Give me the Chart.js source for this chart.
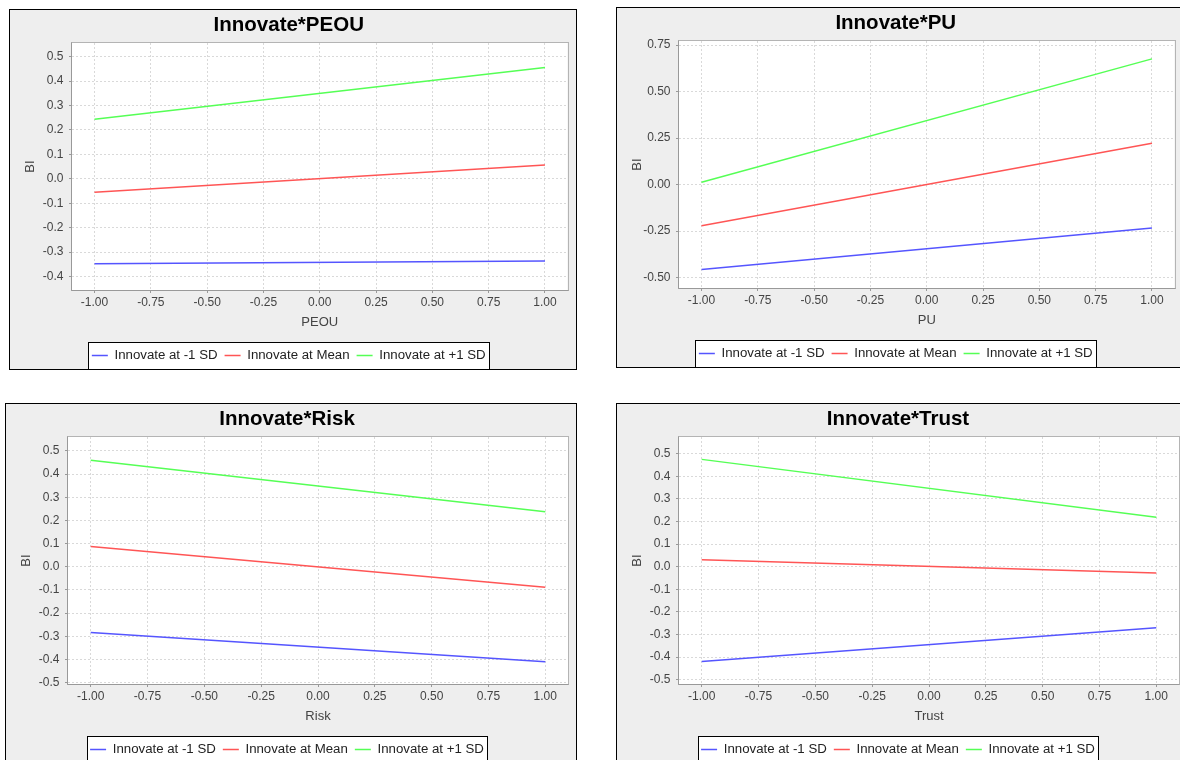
<!DOCTYPE html>
<html lang="en">
<head>
  <meta charset="UTF-8">
  <title>Innovate interaction plots</title>
  <script src="https://cdn.jsdelivr.net/npm/chart.js"></script>
  <style>
    html, body { margin: 0; padding: 0; background: #fff; }
    body { width: 1180px; height: 760px; overflow: hidden; position: relative; }
    .panel {
      position: absolute; box-sizing: border-box; height: 361px;
      border: 1px solid #000; background: #eeeeee; overflow: hidden;
    }
    .panel canvas { display: block; }
  </style>
</head>
<body>
  <div class="panel" style="left:9px; top:9px; width:568px;"><canvas id="chartPEOU" width="566" height="362"></canvas></div>
  <div class="panel" style="left:616px; top:7px; width:568px;"><canvas id="chartPU" width="566" height="362"></canvas></div>
  <div class="panel" style="left:5px; top:403px; width:572px;"><canvas id="chartRisk" width="570" height="362"></canvas></div>
  <div class="panel" style="left:616px; top:403px; width:572px;"><canvas id="chartTrust" width="570" height="362"></canvas></div>

  <script>
    // simple slopes, at x = -1 and x = +1
    const xPoints = [-1, 1];
    const xTicks = [-1, -0.75, -0.5, -0.25, 0, 0.25, 0.5, 0.75, 1];
    const seriesLabels = ['Innovate at -1 SD', 'Innovate at Mean', 'Innovate at +1 SD'];
    const seriesColors = ['#5555ff', '#ff5555', '#55ff55'];

    const peouLow = [-0.348, -0.336];
    const peouMean = [-0.055, 0.057];
    const peouHigh = [0.244, 0.456];
    const peouYTicks = [-0.4, -0.3, -0.2, -0.1, 0, 0.1, 0.2, 0.3, 0.4, 0.5];

    const puLow = [-0.456, -0.234];
    const puMean = [-0.221, 0.222];
    const puHigh = [0.013, 0.676];
    const puYTicks = [-0.5, -0.25, 0, 0.25, 0.5, 0.75];

    const riskLow = [-0.284, -0.41];
    const riskMean = [0.087, -0.088];
    const riskHigh = [0.46, 0.237];
    const riskYTicks = [-0.5, -0.4, -0.3, -0.2, -0.1, 0, 0.1, 0.2, 0.3, 0.4, 0.5];

    const trustLow = [-0.419, -0.27];
    const trustMean = [0.031, -0.028];
    const trustHigh = [0.475, 0.219];
    const trustYTicks = [-0.5, -0.4, -0.3, -0.2, -0.1, 0, 0.1, 0.2, 0.3, 0.4, 0.5];

    Chart.defaults.font.family = '"Liberation Sans", Arial, sans-serif';

    // white plot area, plot outline and the boxed legend
    const framePlugin = {
      id: 'frame',
      beforeDraw(chart) {
        const { ctx, chartArea: a, legend } = chart;
        ctx.save();
        ctx.fillStyle = '#fff';
        ctx.fillRect(a.left, a.top, a.width, a.height);
        const hb = legend && legend.legendHitBoxes;
        if (hb && hb.length) {
          const first = hb[0], last = hb[hb.length - 1];
          const x0 = Math.round(first.left - 3.5) + 0.5;
          const x1 = Math.round(last.left + last.width + 3.5) + 0.5;
          const cy = first.top + first.height / 2;
          const y0 = Math.round(cy - 13.5) + 0.5;
          const y1 = Math.round(cy + 13.5) + 0.5;
          ctx.fillRect(x0, y0, x1 - x0, y1 - y0);
          ctx.strokeStyle = '#000';
          ctx.lineWidth = 1;
          ctx.strokeRect(x0, y0, x1 - x0, y1 - y0);
        }
        ctx.restore();
      },
      beforeDatasetsDraw(chart) {
        const { ctx, chartArea: a } = chart;
        const l = Math.round(a.left) - 0.5, t = Math.round(a.top) - 0.5;
        const r = Math.round(a.right) + 0.5, b = Math.round(a.bottom) + 0.5;
        ctx.save();
        ctx.lineWidth = 1;
        ctx.strokeStyle = '#b4b4b4';
        ctx.strokeRect(l, t, r - l, b - t);
        ctx.strokeStyle = '#999';
        ctx.beginPath();
        ctx.moveTo(l, t); ctx.lineTo(l, b); ctx.lineTo(r, b);
        ctx.stroke();
        ctx.restore();
      }
    };

    function makeChart(id, title, xTitle, yMin, yMax, yTicks, yDecimals, series, rightPad) {
      const datasets = series.map((values, i) => ({
        label: seriesLabels[i],
        data: xPoints.map((x, k) => ({ x, y: values[k] })),
        borderColor: seriesColors[i],
        backgroundColor: seriesColors[i],
        borderWidth: 1.5,
        pointRadius: 0,
        pointStyle: 'line',
        fill: false,
        tension: 0
      }));

      return new Chart(document.getElementById(id), {
        type: 'line',
        data: { datasets },
        plugins: [framePlugin],
        options: {
          responsive: false,
          animation: false,
          events: [],
          layout: { padding: { left: 0, right: rightPad, top: 0, bottom: 0 } },
          plugins: {
            tooltip: { enabled: false },
            title: {
              display: true, text: title, color: '#000',
              font: { size: 20.5, weight: 'bold' },
              padding: { top: 3.5, bottom: 4.9 }
            },
            legend: {
              position: 'bottom',
              labels: {
                usePointStyle: true, pointStyle: 'line', pointStyleWidth: 16,
                padding: 7, color: '#222', font: { size: 13.25 }
              }
            }
          },
          scales: {
            x: {
              type: 'linear', min: -1.1, max: 1.1,
              afterBuildTicks: s => { s.ticks = xTicks.map(v => ({ value: v })); },
              afterFit: s => { s.height = 51.75; },
              ticks: {
                callback: v => Number(v).toFixed(2), autoSkip: false, maxRotation: 0,
                padding: 2, color: '#444', font: { size: 12 }
              },
              grid: { color: '#d9d9d9', tickColor: '#999', tickLength: 3 },
              border: { display: false, dash: [2, 2] },
              title: {
                display: true, text: xTitle, color: '#444',
                font: { size: 13 }, padding: { top: 0, bottom: 11.9 }
              }
            },
            y: {
              type: 'linear', min: yMin, max: yMax,
              afterBuildTicks: s => { s.ticks = yTicks.map(v => ({ value: v })); },
              afterFit: s => { s.width = 62; },
              ticks: {
                callback: v => Number(v).toFixed(yDecimals), autoSkip: false,
                padding: 5.5, color: '#444', font: { size: 12 }
              },
              grid: { color: '#d9d9d9', tickColor: '#999', tickLength: 3 },
              border: { display: false, dash: [2, 2] },
              title: {
                display: true, text: 'BI', color: '#444',
                font: { size: 13 }, padding: { top: 12.2, bottom: 0 }
              }
            }
          }
        }
      });
    }

    makeChart('chartPEOU', 'Innovate*PEOU', 'PEOU', -0.455, 0.556, peouYTicks, 1, [peouLow, peouMean, peouHigh], 8.5);
    makeChart('chartPU', 'Innovate*PU', 'PU', -0.556, 0.772, puYTicks, 2, [puLow, puMean, puHigh], 8.5);
    makeChart('chartRisk', 'Innovate*Risk', 'Risk', -0.506, 0.56, riskYTicks, 1, [riskLow, riskMean, riskHigh], 8);
    makeChart('chartTrust', 'Innovate*Trust', 'Trust', -0.519, 0.574, trustYTicks, 1, [trustLow, trustMean, trustHigh], 8);
  </script>
</body>
</html>
